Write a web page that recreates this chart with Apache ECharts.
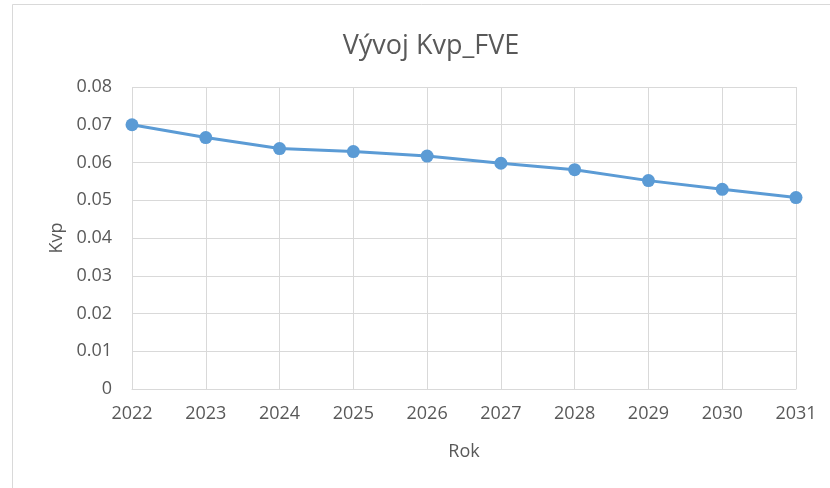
<!DOCTYPE html>
<html>
<head>
<meta charset="utf-8">
<script src="https://cdn.jsdelivr.net/npm/echarts@6/dist/echarts.min.js"></script>
<style>
  html, body { margin: 0; padding: 0; background: #fff; }
  #chart { width: 830px; height: 488px; }
</style>
</head>
<body>
<div id="chart"></div>
<script>
var years = ['2022', '2023', '2024', '2025', '2026', '2027', '2028', '2029', '2030', '2031'];
var kvp = [0.0700, 0.0666, 0.0637, 0.0629, 0.0617, 0.0598, 0.0581, 0.0552, 0.0529, 0.0507];

var textColor = '#595959';
var gridColor = '#d9d9d9';
var font = 'Open Sans';

var myChart = echarts.init(document.getElementById('chart'));
var option = {
    animation: false,
    backgroundColor: '#fff',
    graphic: [{
        type: 'rect',
        shape: { x: 12.5, y: 4.5, width: 840, height: 500 },
        style: { fill: 'none', stroke: gridColor, lineWidth: 1 },
        silent: true
    }],
    title: {
        text: 'Vývoj Kvp_FVE',
        left: 426,
        textAlign: 'center',
        top: 28,
        textStyle: { fontFamily: font, fontSize: 27, fontWeight: 'normal', color: textColor }
    },
    grid: { left: 132, top: 87, width: 664, height: 302 },
    xAxis: {
        type: 'category',
        data: years,
        boundaryGap: false,
        name: 'Rok',
        nameLocation: 'middle',
        nameGap: 54,
        nameTextStyle: { fontFamily: font, fontSize: 18, color: textColor },
        axisLine: { lineStyle: { color: gridColor, width: 1 } },
        axisTick: { show: false },
        axisLabel: { fontFamily: font, fontSize: 18, color: textColor, margin: 16 },
        splitLine: { show: true, lineStyle: { color: gridColor, width: 1 } }
    },
    yAxis: {
        type: 'value',
        min: 0,
        max: 0.08,
        interval: 0.01,
        name: 'Kvp',
        nameLocation: 'middle',
        nameGap: 65,
        nameTextStyle: { fontFamily: font, fontSize: 18, color: textColor },
        axisLine: { show: false },
        axisTick: { show: false },
        axisLabel: {
            fontFamily: font, fontSize: 18, color: textColor, margin: 20,
            formatter: function (v) { return v === 0 ? '0' : v.toFixed(2); }
        },
        splitLine: { lineStyle: { color: gridColor, width: 1 } }
    },
    series: [{
        type: 'line',
        data: kvp,
        symbol: 'circle',
        symbolSize: 13,
        lineStyle: { color: '#5b9bd5', width: 3 },
        itemStyle: { color: '#5b9bd5' }
    }]
};
myChart.setOption(option);
</script>
</body>
</html>
